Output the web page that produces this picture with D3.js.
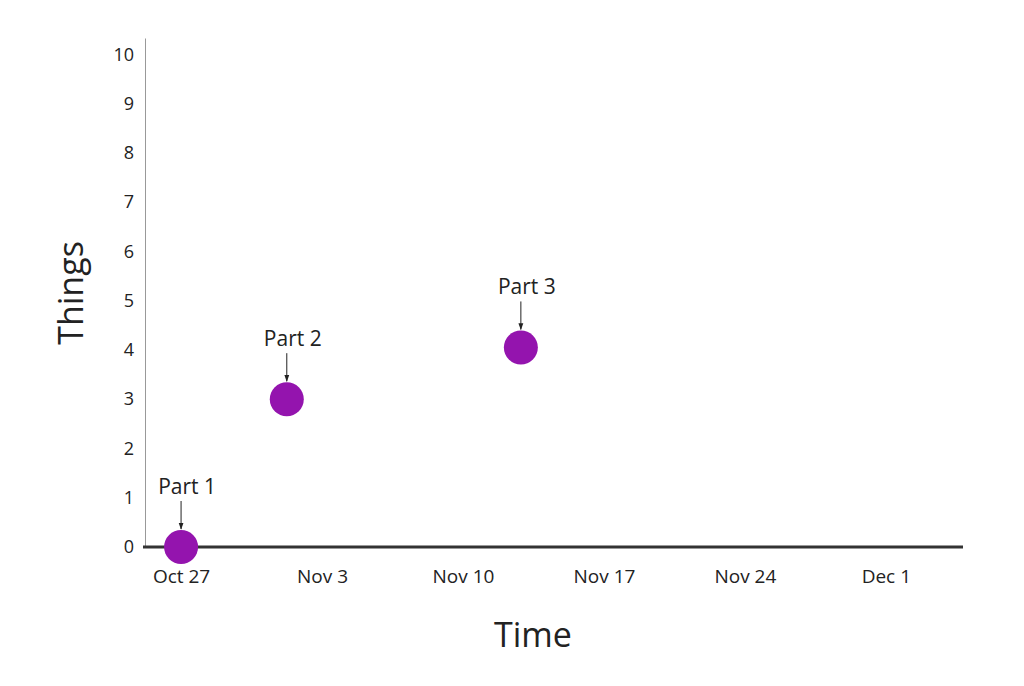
<!DOCTYPE html>
<html><head><meta charset="utf-8">
<script src="https://cdn.jsdelivr.net/npm/d3@7"></script>
<style>
body{margin:0;background:#fff;}
text{font-family:"Open Sans",sans-serif;fill:#222;}
</style></head>
<body><svg id="c" width="1024" height="686"></svg>
<script>
const labels = ["Part 1","Part 2","Part 3"];
const dates = [new Date(2019,9,27,0), new Date(2019,10,1,6), new Date(2019,10,12,21)];
const values = [0, 3, 4.05];
const yTicks = [0,1,2,3,4,5,6,7,8,9,10];
const xTicks = [new Date(2019,9,27), new Date(2019,10,3), new Date(2019,10,10), new Date(2019,10,17), new Date(2019,10,24), new Date(2019,11,1)];
const xDomain = [new Date(2019,9,25,5), new Date(2019,11,4,20)];
const yDomain = [0, 10.33];

(function(){
const svg = d3.select("#c");
const mL = 145, mR = 963, mT = 38, mB = 547;
const x = d3.scaleTime().domain(xDomain).range([mL, mR]);
const y = d3.scaleLinear().domain(yDomain).range([mB, mT]);

svg.append("defs").append("marker").attr("id","arr").attr("viewBox","0 0 10 10")
  .attr("refX",9).attr("refY",5).attr("markerWidth",7).attr("markerHeight",7).attr("orient","auto")
  .append("path").attr("d","M0,1.5 L10,5 L0,8.5 Z").attr("fill","#222");

// y axis
const ya = svg.append("g").attr("transform",`translate(${mL},0)`)
  .call(d3.axisLeft(y).tickValues(yTicks).tickSize(0).tickPadding(11).tickFormat(d3.format("d")));
ya.select(".domain").attr("stroke","#999").attr("stroke-width",1);
ya.selectAll("text").attr("font-size",18).attr("font-family","Open Sans").attr("fill","#222");

// x axis
const xa = svg.append("g").attr("transform",`translate(0,${mB})`)
  .call(d3.axisBottom(x).tickValues(xTicks).tickSize(0).tickPadding(23).tickFormat(d3.timeFormat("%b %-d")));
xa.select(".domain").attr("stroke","#333").attr("stroke-width",3).attr("d",`M${mL-2},0H${mR}`);
xa.selectAll("text").attr("font-size",19).attr("font-family","Open Sans").attr("fill","#222");

// titles
svg.append("text").attr("transform","translate(83,293) rotate(-90)").attr("text-anchor","middle")
  .attr("font-size",34).text("Things");
svg.append("text").attr("x",533).attr("y",647).attr("text-anchor","middle")
  .attr("font-size",34).text("Time");

const pts = labels.map((l,i)=>({l, d:dates[i], v:values[i]}));
const g = svg.append("g");
g.selectAll("circle").data(pts).join("circle")
  .attr("cx",d=>x(d.d)).attr("cy",d=>y(d.v)).attr("r",17).attr("fill","#9414ae");
g.selectAll("line").data(pts).join("line")
  .attr("x1",d=>x(d.d)).attr("x2",d=>x(d.d))
  .attr("y1",d=>y(d.v)-46).attr("y2",d=>y(d.v)-18)
  .attr("stroke","#222").attr("stroke-width",1).attr("marker-end","url(#arr)");
g.selectAll("text.lbl").data(pts).join("text").attr("class","lbl")
  .attr("x",d=>x(d.d)+6).attr("y",d=>y(d.v)-53).attr("text-anchor","middle")
  .attr("font-size",21).text(d=>d.l);
})();
</script></body></html>
